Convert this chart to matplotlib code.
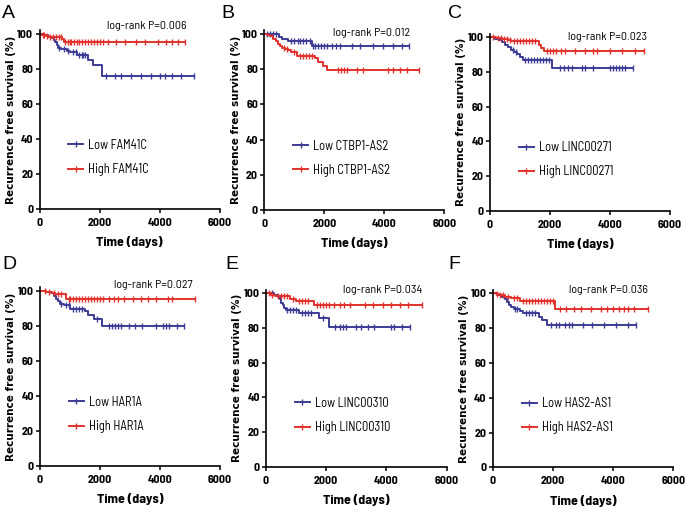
import matplotlib
matplotlib.use('Agg')
import matplotlib.pyplot as plt
from matplotlib.lines import Line2D
import numpy as np

############# data ##################################
# each curve: step times (days), survival (%) after each step, censor times (last one = end of curve)
a_low_t = [0, 150, 280, 400, 470, 520, 580, 630, 700, 900, 1020, 1250, 1620, 1790, 2080]
a_low_s = [100, 99.2, 98.4, 97.6, 96.8, 95.2, 93.6, 92.0, 91.2, 90.4, 89.6, 88.0, 85.2, 82.0, 76.2]
a_low_c = [650, 800, 950, 1100, 1200, 1300, 1400, 1450, 1500, 2220, 2500, 2720, 3050, 3390, 3720, 4000, 4170, 4390, 4720, 5140]
a_high_t = [0, 60, 200, 300, 750, 820]
a_high_s = [100, 99.5, 99.0, 98.2, 97.0, 95.6]
a_high_c = [100, 150, 250, 350, 450, 550, 650, 700, 850, 950, 1000, 1050, 1150, 1250, 1300, 1400, 1500, 1600,
            1700, 1800, 1900, 2000, 2100, 2280, 2550, 2830, 3220, 3500, 3940, 4220, 4390, 4610, 4840]

b_low_t = [0, 480, 600, 800, 1600]
b_low_s = [100, 98.5, 97.2, 95.8, 93.4]
b_low_c = [100, 200, 300, 400, 900, 1000, 1120, 1200, 1300, 1400, 1520, 1620, 1700, 1800, 1900, 2000, 2100, 2250,
           2400, 2520, 2910, 3190, 3630, 3970, 4300, 4580, 4830]
b_high_t = [0, 100, 200, 300, 380, 450, 520, 600, 700, 800, 900, 1100, 1700, 1800, 1950, 2080]
b_high_s = [100, 99.3, 98.6, 97.2, 95.8, 94.4, 93.0, 92.3, 91.6, 90.9, 89.5, 87.7, 86.3, 84.2, 82.1, 79.7]
b_high_c = [650, 750, 1000, 1200, 1300, 1400, 1500, 1600, 2450, 2550, 2650, 2760, 3080, 3300, 4130, 4300, 4520,
            4750, 5160]

c_low_t = [0, 150, 300, 400, 500, 600, 700, 800, 900, 1000, 1100, 2080]
c_low_s = [100, 99, 98, 97, 95.5, 94, 92.5, 91.5, 90, 88.5, 86.9, 82.1]
c_low_c = [750, 850, 1150, 1250, 1350, 1450, 1550, 1650, 1750, 1850, 1950, 2330, 2450, 2600, 2720, 3060, 3170, 3440,
           4000, 4100, 4200, 4300, 4400, 4500, 4780]
c_high_t = [0, 200, 400, 600, 700, 1620, 1700, 1800]
c_high_s = [100, 99.5, 99, 98.3, 97.5, 95.2, 93.5, 91.7]
c_high_c = [100, 250, 350, 450, 550, 650, 800, 900, 1000, 1100, 1200, 1300, 1400, 1500, 1890, 2000, 2100, 2200,
            2350, 2500, 2830, 3170, 3440, 3560, 4000, 4390, 4830, 5140]

d_low_t = [0, 200, 350, 450, 520, 600, 680, 800, 1000, 1500, 1600, 1800, 2080]
d_low_s = [100, 99.3, 98.5, 97, 95.5, 94, 92.5, 91.8, 89.8, 88.2, 86.1, 84.0, 79.8]
d_low_c = [700, 850, 950, 1100, 1200, 1300, 1400, 1900, 2300, 2400, 2500, 2600, 2700, 2950, 3150, 3400, 3850, 4100,
           4200, 4300, 4550, 4800]
d_high_t = [0, 200, 400, 500, 850]
d_high_s = [100, 99.3, 98.6, 97.9, 95.2]
d_high_c = [150, 300, 450, 600, 700, 950, 1000, 1100, 1200, 1300, 1400, 1500, 1600, 1700, 1800, 1900, 2000, 2100,
            2300, 2450, 2600, 2800, 3100, 3350, 3600, 3850, 4250, 4400, 5150]

e_low_t = [0, 250, 400, 450, 500, 550, 600, 650, 1100, 1750, 2080]
e_low_s = [100, 99.2, 98, 96.5, 94.5, 93, 91.5, 90.4, 88.8, 85.6, 80.8]
e_low_c = [200, 700, 800, 900, 1000, 1200, 1300, 1400, 1500, 1900, 2300, 2450, 2550, 2650, 3000, 3150, 3400, 3600,
           4150, 4250, 4500, 4790]
e_high_t = [0, 150, 300, 800, 1000, 1600]
e_high_s = [100, 99.3, 98.5, 97.0, 95.8, 93.3]
e_high_c = [100, 200, 400, 500, 600, 700, 900, 1100, 1200, 1300, 1400, 1700, 1800, 1900, 2000, 2100, 2250, 2450,
            2600, 2800, 3300, 3550, 3900, 4150, 4450, 4700, 5170]

f_low_t = [0, 150, 300, 400, 480, 550, 620, 700, 900, 1000, 1550, 1650, 1800]
f_low_s = [100, 99.2, 98, 96.5, 95, 93.5, 92.3, 91.2, 89.8, 88.5, 86.5, 84.5, 81.5]
f_low_c = [750, 800, 1100, 1200, 1300, 1400, 1950, 2100, 2200, 2400, 2550, 2650, 3000, 3300, 3700, 4100, 4500, 4750]
f_high_t = [0, 100, 200, 400, 600, 900, 2080]
f_high_s = [100, 99.6, 99, 98, 97.1, 95.6, 90.8]
f_high_c = [150, 250, 350, 500, 700, 800, 1000, 1100, 1200, 1300, 1400, 1500, 1600, 1700, 1800, 1900, 2000, 2250,
            2450, 2700, 2950, 3250, 3600, 3800, 4000, 4200, 4350, 4500, 4700, 5150]

genes = ['FAM41C', 'CTBP1-AS2', 'LINC00271', 'HAR1A', 'LINC00310', 'HAS2-AS1']
pvals = ['0.006', '0.012', '0.023', '0.027', '0.034', '0.036']
letters = ['A', 'B', 'C', 'D', 'E', 'F']
#####################################################

W, H = 685, 511
# pixel boxes: x at 0 days, x at 6000 days, y at 0 %, y at 100 %
boxes = [(39.5, 220, 209, 34), (264.3, 444.3, 210, 34), (490, 670, 211, 37),
         (40, 220, 466, 290.7), (266, 446.7, 466.7, 293.3), (492.7, 673.3, 467.3, 293.3)]
ptext = [(4880, 104.4), (4857, 100.6), (5222, 100.2), (5089, 103.3), (5190, 101.9), (5150, 101.9)]
letter_xy = [(2, 5), (221, 5), (448, 5), (2, 256), (225, 256), (448, 256)]

blue = '#3c3c96'
red = '#e2312b'
narrow = ['Barlow Semi Condensed', 'DejaVu Sans']

curves = [(a_low_t, a_low_s, a_low_c, a_high_t, a_high_s, a_high_c),
          (b_low_t, b_low_s, b_low_c, b_high_t, b_high_s, b_high_c),
          (c_low_t, c_low_s, c_low_c, c_high_t, c_high_s, c_high_c),
          (d_low_t, d_low_s, d_low_c, d_high_t, d_high_s, d_high_c),
          (e_low_t, e_low_s, e_low_c, e_high_t, e_high_s, e_high_c),
          (f_low_t, f_low_s, f_low_c, f_high_t, f_high_s, f_high_c)]

fig = plt.figure(figsize=(W / 100, H / 100), dpi=100)


def km(ax, t, s, c, col):
    t = np.array(t); s = np.array(s); c = np.array(c)
    end = c.max()
    ax.step(np.append(t, end), np.append(s, s[-1]), where='post', color=col, lw=1.4, clip_on=False)
    sc = s[np.searchsorted(t, c, side='right') - 1]
    ax.plot(c, sc, ls='none', marker='|', ms=4.5, mew=1.0, color=col, clip_on=False)


for i in range(6):
    x0, x6, y0, y100 = boxes[i]
    ytop = y100 - 2 * (y0 - y100) / 100
    ax = fig.add_axes([x0 / W, 1 - y0 / H, (x6 - x0) / W, (y0 - ytop) / H])
    lt, ls_, lc, ht, hs, hc = curves[i]
    km(ax, lt, ls_, lc, blue)
    km(ax, ht, hs, hc, red)
    ax.set_xlim(0, 6000)
    ax.set_ylim(0, 102)
    ax.set_xticks([0, 2000, 4000, 6000])
    ax.set_yticks([0, 20, 40, 60, 80, 100])
    for sp in ['top', 'right']:
        ax.spines[sp].set_visible(False)
    for sp in ['left', 'bottom']:
        ax.spines[sp].set_linewidth(1.2)
    ax.tick_params(direction='out', length=3, width=1.1)
    ax.tick_params(axis='x', pad=3.5)
    ax.tick_params(axis='y', pad=1.5)
    for lab in ax.get_xticklabels() + ax.get_yticklabels():
        lab.set_family(narrow)
        lab.set_weight('bold')
        lab.set_fontsize(8.5)
    ax.set_xlabel('Time (days)', family=narrow, weight='bold', fontsize=10, labelpad=6)
    ax.set_ylabel('Recurrence free survival (%)', family='DejaVu Sans', weight='bold', fontsize=7.5, labelpad=1)
    ax.text(ptext[i][0], ptext[i][1], 'log-rank P=' + pvals[i], ha='right', va='center',
            family=narrow, fontsize=8.6, clip_on=False)
    handles = [Line2D([], [], color=blue, lw=1.4, marker='|', ms=4.5, mew=1.0),
               Line2D([], [], color=red, lw=1.4, marker='|', ms=4.5, mew=1.0)]
    ax.legend(handles, ['Low ' + genes[i], 'High ' + genes[i]], loc='lower left',
              bbox_to_anchor=(0.125, 0.15), frameon=False, prop={'family': narrow, 'size': 9},
              handlelength=1.2, handletextpad=0.4, labelspacing=0.9, borderpad=0)
    fig.text(letter_xy[i][0] / W, 1 - letter_xy[i][1] / H, letters[i], ha='left', va='top', fontsize=14,
             family='Liberation Sans')

fig.savefig('out.png', dpi=100)
